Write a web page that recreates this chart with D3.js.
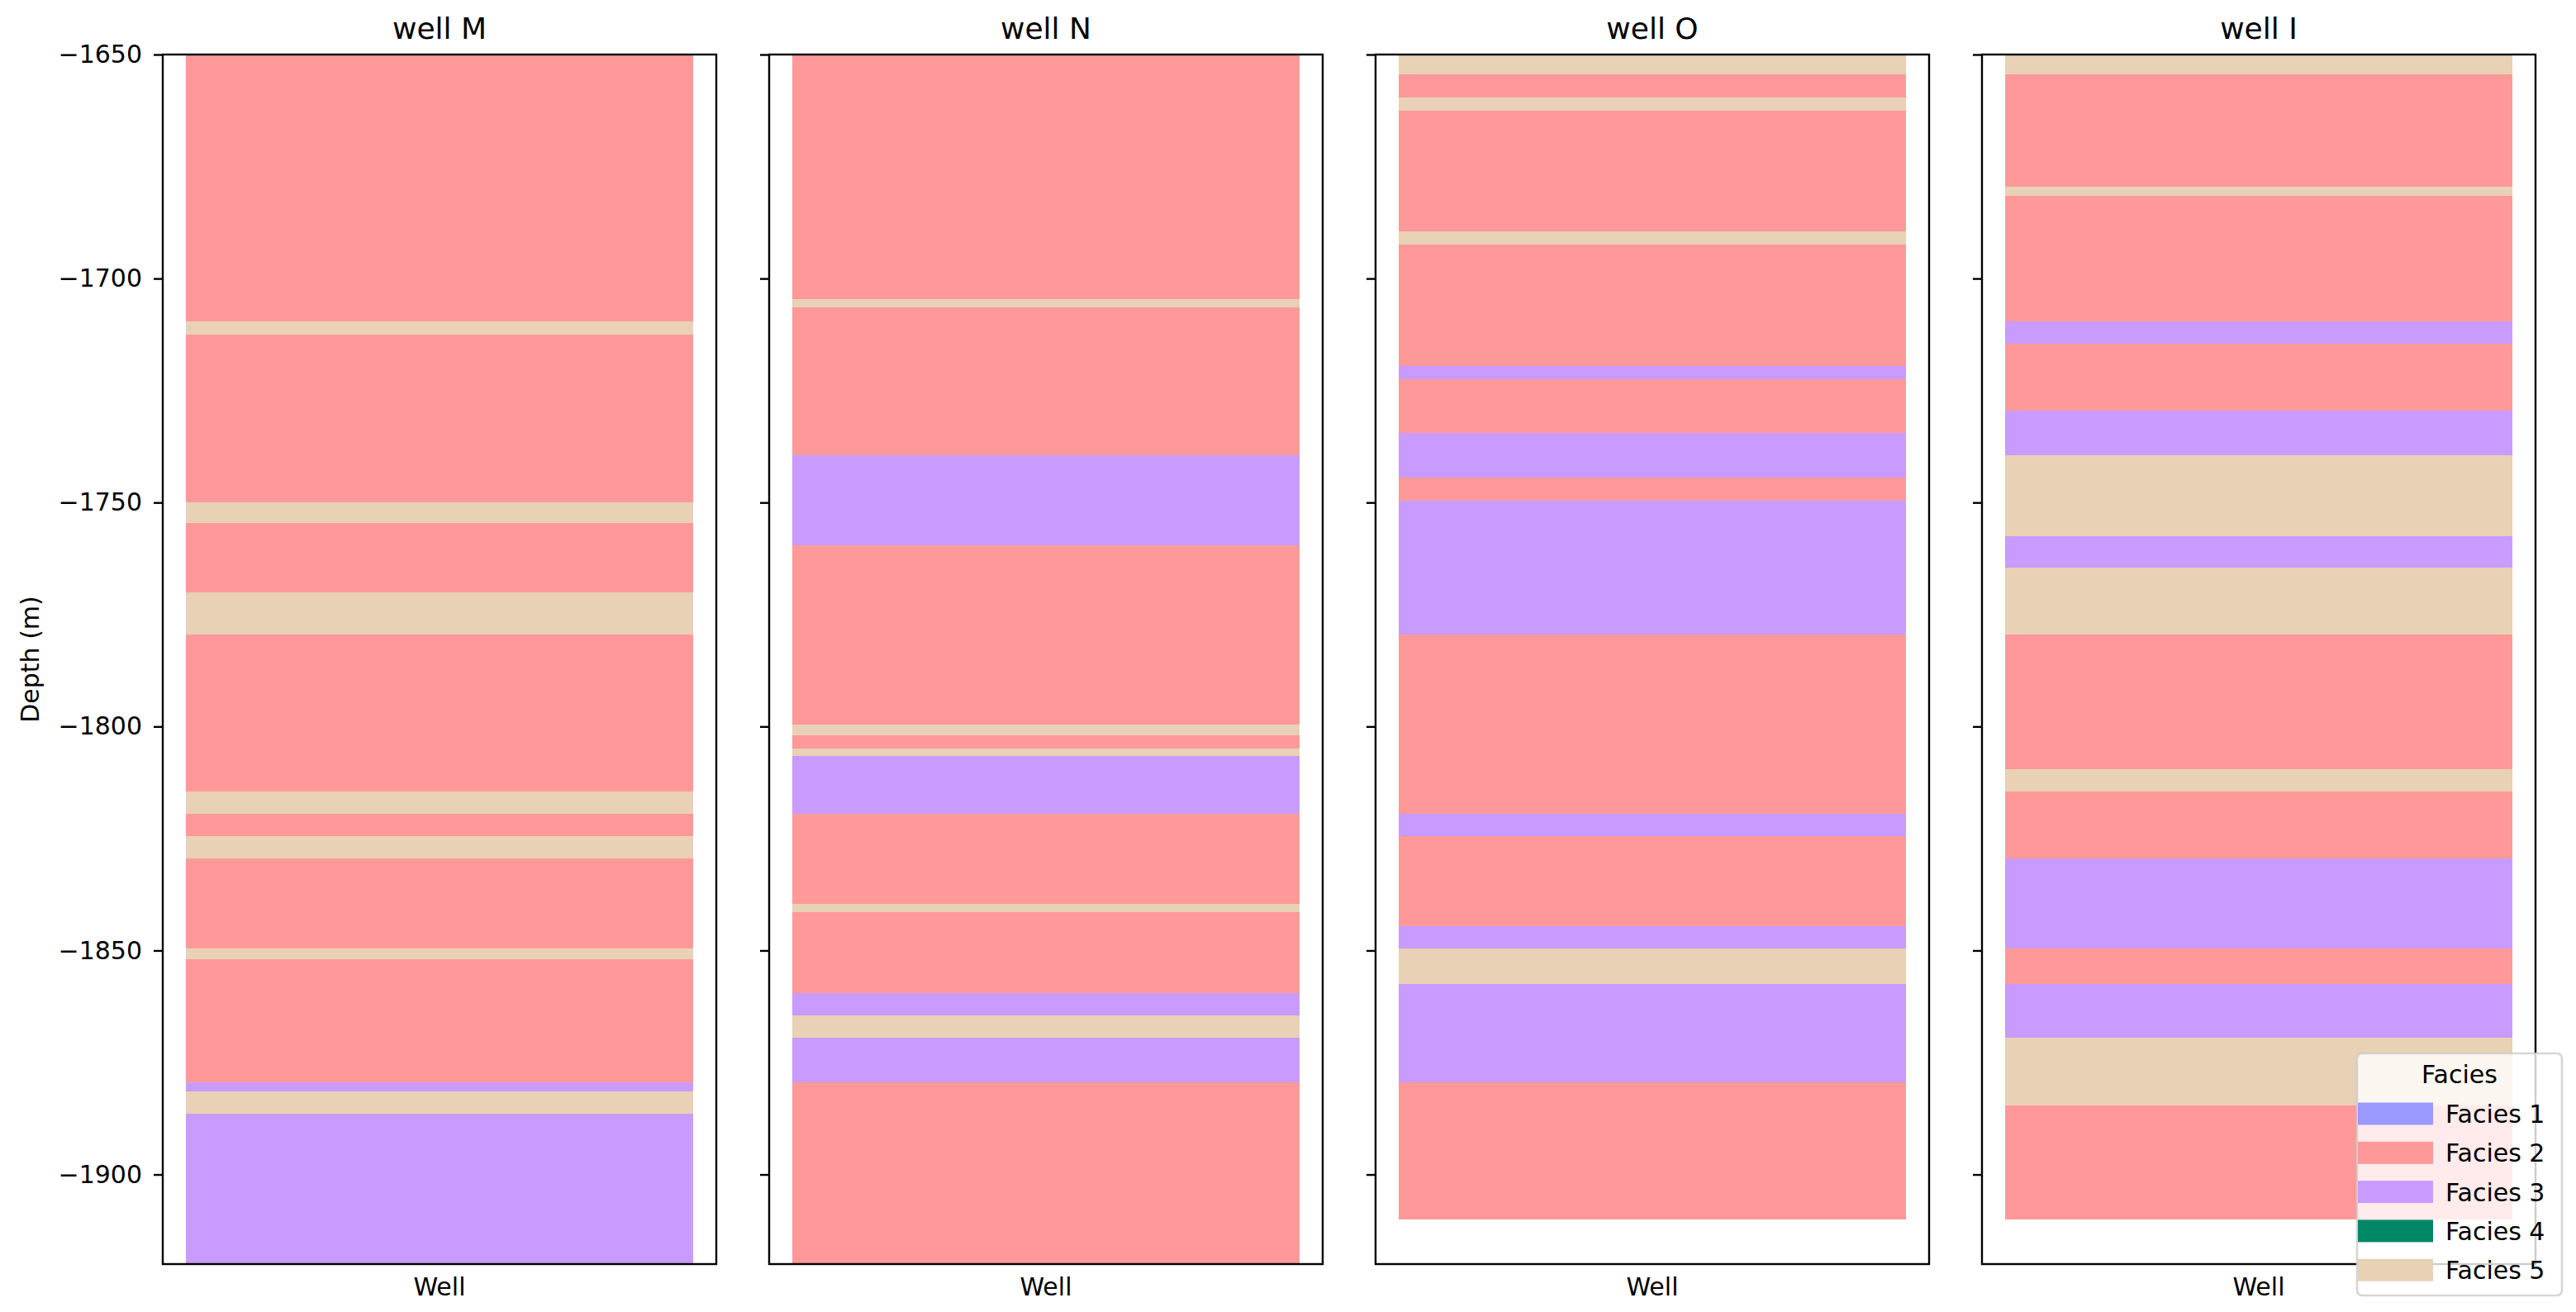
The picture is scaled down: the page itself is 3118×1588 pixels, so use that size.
<!DOCTYPE html>
<html>
<head>
<meta charset="utf-8">
<script src="https://cdnjs.cloudflare.com/ajax/libs/d3/7.8.5/d3.min.js"></script>
<style>
  body { margin: 0; background: #fff; }
  svg { display: block; font-family: "DejaVu Sans", sans-serif; }
</style>
</head>
<body>
<svg width="3118" height="1588"></svg>
<script>
// ---- data ----
const wellNames = ["well M", "well N", "well O", "well I"];
const faciesNames = ["Facies 1", "Facies 2", "Facies 3", "Facies 4", "Facies 5"];
const faciesColors = ["#9999ff", "#ff9999", "#c99bff", "#008766", "#e8d1b4"];
const depthTicks = [-1900, -1850, -1800, -1750, -1700, -1650];
const depthRange = [-1920, -1650];

// layer tops (m), facies code of each layer, and base of the last layer
const topsM = [-1650, -1709.5, -1712.5, -1750, -1754.5, -1770, -1779.5, -1814.5, -1819.5, -1824.5, -1829.5, -1849.5, -1852, -1879.5, -1881.5, -1886.5];
const faciesM = [2, 5, 2, 5, 2, 5, 2, 5, 2, 5, 2, 5, 2, 3, 5, 3];
const baseM = -1920;

const topsN = [-1650, -1704.5, -1706.5, -1739.5, -1759.5, -1799.5, -1802, -1805, -1806.5, -1819.5, -1839.5, -1841.5, -1859.5, -1864.5, -1869.5, -1879.5];
const faciesN = [2, 5, 2, 3, 2, 5, 2, 5, 3, 2, 5, 2, 3, 5, 3, 2];
const baseN = -1920;

const topsO = [-1650, -1654.5, -1659.5, -1662.5, -1689.5, -1692.5, -1719.5, -1722.5, -1734.5, -1744.5, -1749.5, -1779.5, -1819.5, -1824.5, -1844.5, -1849.5, -1857.5, -1879.5];
const faciesO = [5, 2, 5, 2, 5, 2, 3, 2, 3, 2, 3, 2, 3, 2, 3, 5, 3, 2];
const baseO = -1910;

const topsI = [-1650, -1654.5, -1679.5, -1681.5, -1709.5, -1714.5, -1729.5, -1739.5, -1757.5, -1764.5, -1779.5, -1809.5, -1814.5, -1829.5, -1849.5, -1857.5, -1869.5, -1884.5];
const faciesI = [5, 2, 5, 2, 3, 2, 3, 5, 3, 5, 2, 5, 2, 3, 2, 3, 5, 2];
const baseI = -1910;

const wellTops = [topsM, topsN, topsO, topsI];
const wellFacies = [faciesM, faciesN, faciesO, faciesI];
const wellBases = [baseM, baseN, baseO, baseI];

// ---- layout ----
const svg = d3.select('svg');
const axTop = 66, axBottom = 1530;
const axLeft0 = 197, axStep = 734, axWidth = 670;

const yScale = d3.scaleLinear()
  .domain(depthRange)
  .range([axBottom, axTop]);

const xScale = d3.scaleLinear()
  .domain([-0.5458, 0.5458])   // bar of width 1 plus default margins
  .range([0, axWidth]);

svg.append('rect').attr('width', 3118).attr('height', 1588).attr('fill', '#fff');

wellNames.forEach((name, w) => {
  const x0 = axLeft0 + w * axStep;
  const g = svg.append('g').attr('transform', `translate(${x0},0)`);

  g.append('clipPath').attr('id', 'clip' + w)
    .append('rect')
    .attr('x', 0).attr('y', axTop)
    .attr('width', axWidth).attr('height', axBottom - axTop);

  const tops = wellTops[w];
  const layers = tops.map((t, i) => ({
    top: t,
    bottom: i < tops.length - 1 ? tops[i + 1] : wellBases[w],
    facies: wellFacies[w][i]
  }));

  g.append('g').attr('clip-path', `url(#clip${w})`)
    .selectAll('rect')
    .data(layers)
    .enter()
    .append('rect')
      .attr('x', xScale(-0.5))
      .attr('width', xScale(0.5) - xScale(-0.5))
      .attr('y', d => yScale(d.top))
      .attr('height', d => yScale(d.bottom) - yScale(d.top))
      .attr('fill', d => faciesColors[d.facies - 1])
      .attr('shape-rendering', 'crispEdges');

  // y axis (labels only on the first panel, sharey)
  const yAxis = d3.axisLeft(yScale)
    .tickValues(depthTicks)
    .tickSize(11)
    .tickPadding(14)
    .tickFormat(w === 0 ? d3.format('d') : '');
  const ya = g.append('g').call(yAxis);
  ya.select('.domain').remove();
  ya.selectAll('.tick line').attr('stroke', '#000').attr('stroke-width', 2.4);
  ya.selectAll('.tick text')
    .attr('fill', '#000')
    .style('font-size', '30px')
    .style('font-family', '"DejaVu Sans", sans-serif');

  // frame
  g.append('rect')
    .attr('x', 0).attr('y', axTop)
    .attr('width', axWidth).attr('height', axBottom - axTop)
    .attr('fill', 'none')
    .attr('stroke', '#000')
    .attr('stroke-width', 2.4);

  // title
  g.append('text')
    .attr('x', axWidth / 2)
    .attr('y', 47)
    .attr('text-anchor', 'middle')
    .style('font-size', '36px')
    .text(name);

  // x label
  g.append('text')
    .attr('x', axWidth / 2)
    .attr('y', 1568)
    .attr('text-anchor', 'middle')
    .style('font-size', '30px')
    .text('Well');
});

// y label
svg.append('text')
  .attr('transform', `translate(47,${(axTop + axBottom) / 2}) rotate(-90)`)
  .attr('text-anchor', 'middle')
  .style('font-size', '30px')
  .text('Depth (m)');

// legend
const lg = svg.append('g').attr('transform', 'translate(2853,1275)');
lg.append('rect')
  .attr('width', 248).attr('height', 293)
  .attr('rx', 6).attr('ry', 6)
  .attr('fill', '#fff').attr('fill-opacity', 0.8)
  .attr('stroke', '#cccccc').attr('stroke-opacity', 0.8)
  .attr('stroke-width', 2.6);
lg.append('text')
  .attr('x', 124).attr('y', 36)
  .attr('text-anchor', 'middle')
  .style('font-size', '30px')
  .text('Facies');
const rows = lg.selectAll('g.row')
  .data(faciesNames)
  .enter()
  .append('g')
    .attr('class', 'row')
    .attr('transform', (d, i) => `translate(0,${73 + i * 47.3})`);
rows.append('rect')
  .attr('x', 1).attr('y', -13.5)
  .attr('width', 91).attr('height', 27)
  .attr('fill', (d, i) => faciesColors[i]);
rows.append('text')
  .attr('x', 107).attr('y', 11)
  .style('font-size', '30px')
  .text(d => d);
</script>
</body>
</html>
